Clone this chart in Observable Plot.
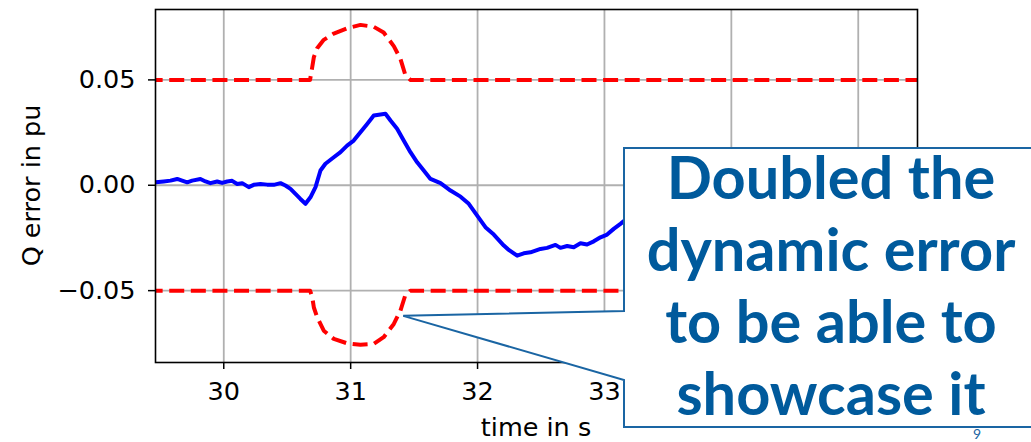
<!DOCTYPE html>
<html>
<head>
<meta charset="utf-8">
<script src="https://cdn.jsdelivr.net/npm/d3@7"></script>
<script src="https://cdn.jsdelivr.net/npm/@observablehq/plot@0.6"></script>
<style>
  html, body { margin: 0; padding: 0; background: white; }
  #chart { position: relative; width: 1031px; height: 442px; overflow: hidden; }
</style>
</head>
<body>
<div id="chart"></div>
<script>
// ---- data ----
const xGrid = [30, 31, 32, 33, 34, 35];
const xTickLabels = [30, 31, 32, 33];   // 34 and 35 lie under the callout box
const yTicks = [-0.05, 0.00, 0.05];

// measured Q error (blue)
const errT = [29.40, 29.464, 29.527, 29.58, 29.633, 29.672, 29.712, 29.751, 29.816, 29.856, 29.895, 29.948, 29.987,
  30.027, 30.066, 30.106, 30.145, 30.197, 30.236, 30.289, 30.342, 30.394, 30.447, 30.486, 30.526, 30.565, 30.604,
  30.644, 30.683, 30.723, 30.762, 30.801, 30.867, 30.920, 30.972, 31.024, 31.077, 31.130, 31.182, 31.235, 31.274,
  31.314, 31.366, 31.418, 31.471, 31.524, 31.576, 31.629, 31.708, 31.787, 31.866, 31.931, 31.997, 32.062, 32.128,
  32.207, 32.246, 32.312, 32.364, 32.417, 32.496, 32.548, 32.614, 32.653, 32.706, 32.758, 32.811, 32.863, 32.916,
  32.969, 33.021, 33.073, 33.126, 33.165, 33.4, 33.7, 34.0, 34.5, 35.0, 35.5];
const errV = [0.0014, 0.0014, 0.0018, 0.0022, 0.0030, 0.0022, 0.0014, 0.0022, 0.0030, 0.0018, 0.0010, 0.0018, 0.0011,
  0.0018, 0.0021, 0.0006, 0.0010, -0.0009, 0.0002, 0.0006, 0.0003, 0.0002, 0.0010, -0.0001, -0.0017, -0.0041, -0.0065,
  -0.0088, -0.0057, -0.0009, 0.0070, 0.0102, 0.0133, 0.0157, 0.0188, 0.0212, 0.0252, 0.0291, 0.0331, 0.0336, 0.0339,
  0.0307, 0.0268, 0.0212, 0.0157, 0.0109, 0.0070, 0.0030, 0.0010, -0.0025, -0.0054, -0.0088, -0.0144, -0.0199, -0.0234,
  -0.0286, -0.0307, -0.0334, -0.0323, -0.0318, -0.0302, -0.0297, -0.0283, -0.0297, -0.0288, -0.0294, -0.0275, -0.0281, -0.0266,
  -0.0247, -0.0234, -0.0207, -0.0183, -0.0164, -0.0100, -0.0050, -0.0020, 0.0000, 0.0010, 0.0000];

// upper tolerance band (red dashed)
const upT = [29.40, 30.68, 30.697, 30.71, 30.736, 30.788, 30.867, 30.972, 31.077, 31.182, 31.26, 31.34, 31.392, 31.43, 31.47, 35.5];
const upV = [0.05, 0.05, 0.0560, 0.0608, 0.0650, 0.0690, 0.0720, 0.0745, 0.0761, 0.0752, 0.0725, 0.0660, 0.0600, 0.0525, 0.05, 0.05];

// lower tolerance band (red dashed)
const loT = [29.40, 30.68, 30.697, 30.71, 30.736, 30.788, 30.867, 30.972, 31.077, 31.182, 31.26, 31.34, 31.392, 31.43, 31.47, 35.5];
const loV = [-0.05, -0.05, -0.053, -0.058, -0.0626, -0.069, -0.0729, -0.075, -0.0757, -0.0753, -0.0721, -0.0658, -0.0595, -0.0523, -0.05, -0.05];

const xLabel = "time in s";
const yLabel = "Q error in pu";
const calloutLines = ["Doubled the", "dynamic error", "to be able to", "showcase it"];
const pageNumber = "9";

// ---- tables ----
const err = errT.map((t, i) => ({t, v: errV[i]}));
const up = upT.map((t, i) => ({t, v: upV[i]}));
const lo = loT.map((t, i) => ({t, v: loV[i]}));

const W = 1031, H = 442;
const mL = 155, mR = 114, mT = 9, mB = 80;
const font = "'DejaVu Sans', sans-serif";

const redStyle = {x: "t", y: "v", stroke: "#ff0000", strokeWidth: 4, strokeDasharray: "15,6.6",
  strokeLinecap: "butt", strokeLinejoin: "round", clip: true};

const chart = Plot.plot({
  width: W, height: H,
  marginLeft: mL, marginRight: mR, marginTop: mT, marginBottom: mB,
  style: {fontFamily: font, fontSize: "25px", color: "black", background: "white", overflow: "visible"},
  x: {domain: [29.462, 35.467]},
  y: {domain: [-0.0841, 0.0834]},
  marks: [
    Plot.gridX(xGrid, {stroke: "#b0b0b0", strokeOpacity: 1, strokeWidth: 1.8}),
    Plot.gridY(yTicks, {stroke: "#b0b0b0", strokeOpacity: 1, strokeWidth: 1.8}),
    Plot.line(up, redStyle),
    Plot.line(lo, redStyle),
    Plot.line(err, {x: "t", y: "v", stroke: "#0000ff", strokeWidth: 4, strokeLinejoin: "round", clip: true}),
    Plot.frame({stroke: "black", strokeWidth: 1.6}),
    Plot.axisX(xTickLabels, {tickSize: 7, tickPadding: 12, strokeWidth: 1.5, label: null, tickFormat: d3.format("d"), fontSize: 25.5}),
    Plot.axisY(yTicks, {tickSize: 7, tickPadding: 13, strokeWidth: 1.5, label: null, tickFormat: d3.format(".2f"), fontSize: 25.5})
  ]
});

document.getElementById("chart").appendChild(chart);

const svg = d3.select(chart);
const xs = chart.scale("x"), ys = chart.scale("y");

// axis titles
svg.append("text")
  .attr("x", (mL + (W - mR)) / 2).attr("y", 436)
  .attr("text-anchor", "middle")
  .style("font-family", font).style("font-size", "25.5px").attr("fill", "black")
  .text(xLabel);
svg.append("text")
  .attr("transform", `translate(40,${(mT + (H - mB)) / 2}) rotate(-90)`)
  .attr("text-anchor", "middle")
  .style("font-family", font).style("font-size", "25.5px").attr("fill", "black")
  .text(yLabel);

// callout annotation pointing at the lower band
const tipX = xs.apply(31.418), tipY = ys.apply(-0.0622);
const bx0 = 624, by0 = 148, bx1 = 1045, by1 = 427;
const callout = svg.append("g");
callout.append("path")
  .attr("d", `M${bx0},${by0}L${bx1},${by0}L${bx1},${by1}L${bx0},${by1}L${bx0},380L${tipX},${tipY}L${bx0},311Z`)
  .attr("fill", "white").attr("stroke", "#1a65a3").attr("stroke-width", 2).attr("stroke-linejoin", "miter");
calloutLines.forEach((s, i) => {
  callout.append("text")
    .attr("x", 831).attr("y", 199 + i * 72)
    .attr("text-anchor", "middle")
    .style("font-family", "Lato, 'Open Sans', sans-serif").style("font-weight", "700").style("font-size", "59.5px")
    .attr("fill", "#005a9c")
    .text(s);
});
svg.append("text")
  .attr("x", 977).attr("y", 439)
  .attr("text-anchor", "middle")
  .style("font-family", "Lato, sans-serif").style("font-size", "14px")
  .attr("fill", "#1a65a3")
  .text(pageNumber);
</script>
</body>
</html>
